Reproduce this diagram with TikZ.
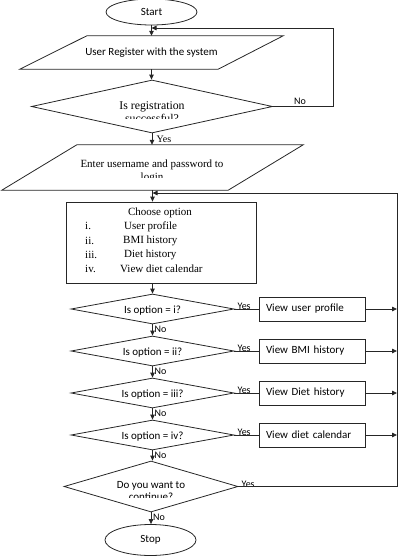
\documentclass[tikz,border=0pt]{standalone}
\usepackage{fontspec}
\setmainfont{Liberation Serif}
\newfontfamily\calibri{Carlito}
\usetikzlibrary{arrows.meta,positioning,shapes.geometric,calc}

\begin{document}
\begin{tikzpicture}[x=1pt,y=-1pt,font=\calibri\fontsize{11}{13}\selectfont,
  line/.style={draw=black!85,line width=0.8pt},
  arr/.style={line,-{Triangle[length=5pt,width=4.5pt]}},
  term/.style={ellipse,line,minimum width=91,minimum height=27,inner sep=0pt},
  dec/.style={diamond,line,inner sep=0pt},
  act/.style={rectangle,line,minimum height=24,text width=92pt,inner xsep=7pt,inner ysep=0pt,align=left},
  io/.style={inner sep=0pt},
  tnr/.style={font=\rmfamily\fontsize{11}{12.5}\selectfont},
  lab/.style={inner sep=0pt,font=\calibri\fontsize{10}{11}\selectfont}]
\useasboundingbox (0,0) rectangle (400,560);
% registration part
\node[term,minimum height=26] (start) at (151.5,12) {Start};
\node[io,minimum width=263,minimum height=33] (reg) at (151.5,52.5) {User Register with the system};
\draw[line] ([xshift=67pt]reg.north west) -- (reg.north east) -- ([xshift=-65pt]reg.south east) -- (reg.south west) -- cycle;
\node[dec,minimum width=241,minimum height=53] (isreg) at (152,106.5) {};
\begin{scope}
  \clip (40,90) rectangle (260,118.5);
  \node[tnr,align=center,font=\rmfamily\fontsize{11.8}{13}\selectfont] (isregtxt) at (152,112.5) {Is registration\\successful?};
\end{scope}
\coordinate (back) at (333,28);
\draw[arr] (start.south) -- (start.south |- reg.north);
\draw[arr] (reg.south) -- (reg.south |- isreg.north);
\draw[arr] (isreg.east) -- node[lab,above=2pt,pos=.45] (noreg) {No} (isreg.east -| back) -- (back) -- (back -| start.south);
% login
\node[io,minimum width=301,minimum height=45] (login) at (152.5,167.5) {};
\draw[line] ([xshift=75pt]login.north west) -- (login.north east) -- ([xshift=-75pt]login.south east) -- (login.south west) -- cycle;
\begin{scope}
  \clip (20,150) rectangle (290,177.5);
  \node[tnr,align=center] (logintxt) at (152,171.5) {Enter username and password to\\login};
\end{scope}
\draw[arr] (isreg.south) -- node[tnr,right=1pt,font=\rmfamily\fontsize{10}{11}\selectfont] (yesreg) {Yes} (isreg.south |- login.north);
% menu of options
\node[rectangle,line,minimum width=190,minimum height=81,inner sep=0pt] (opt) at (161,242.5) {};
\node[tnr] (opttitle) at (160,212.5) {Choose option};
\foreach \n/\t/\tx [count=\k] in {i./User profile/124, ii./BMI history/123, iii./Diet history/124, iv./View diet calendar/120}{
  \node[tnr,anchor=west,inner sep=0pt] (num\k) at (85,212+14.3*\k) {\n};
  \node[tnr,anchor=west,inner sep=0pt] (item\k) at (\tx,212+14.3*\k) {\t};}
\draw[arr] (login.south) -- (login.south |- opt.north);
% the four questions
\coordinate (rail) at (397,193);
\foreach \n/\y/\v [count=\k] in {i/309/View user profile, ii/351/View BMI history, iii/393/View Diet history, iv/435/View diet calendar}{
  \node[dec,minimum width=163,minimum height=30,label={[inner sep=0pt,yshift=-1.5pt]center:Is option = \n?}] (q\k) at (152.5,\y) {};
  \node[act] (v\k) at (312,\y) {\v};
  \draw[line] (q\k.east) -- (v\k.west);
  \draw[arr] (v\k.east) -- (v\k.east -| rail);
  \node[lab,above right=-1pt and 3pt of q\k.east] (yes\k) {Yes};
  \node[lab,below right=1pt and 2pt of q\k.south] (no\k) {No};}
\draw[arr] (opt.south -| q1.north) -- (q1.north);
\foreach \a/\b in {1/2, 2/3, 3/4}{\draw[arr] (q\a.south) -- (q\b.north);}
% continue or stop
\node[dec,minimum width=174,minimum height=51] (cont) at (151,486.5) {};
\begin{scope}
  \clip (70,470) rectangle (230,497.5);
  \node[align=center,font=\calibri\fontsize{11}{12.5}\selectfont] (conttxt) at (151,491) {Do you want to\\continue?};
\end{scope}
\draw[arr] (q4.south) -- (q4.south |- cont.north);
\node[lab,above right=-1pt and 3pt of cont.east] (yescont) {Yes};
\draw[arr] (cont.east) -| (rail) -- (rail -| login.south);
\node[term,minimum height=31] (stop) at (150.5,540) {Stop};
\draw[arr] (cont.south) -- (cont.south |- stop.north);
\node[lab,below right=1pt and 2pt of cont.south] (nocont) {No};
\end{tikzpicture}
\end{document}
